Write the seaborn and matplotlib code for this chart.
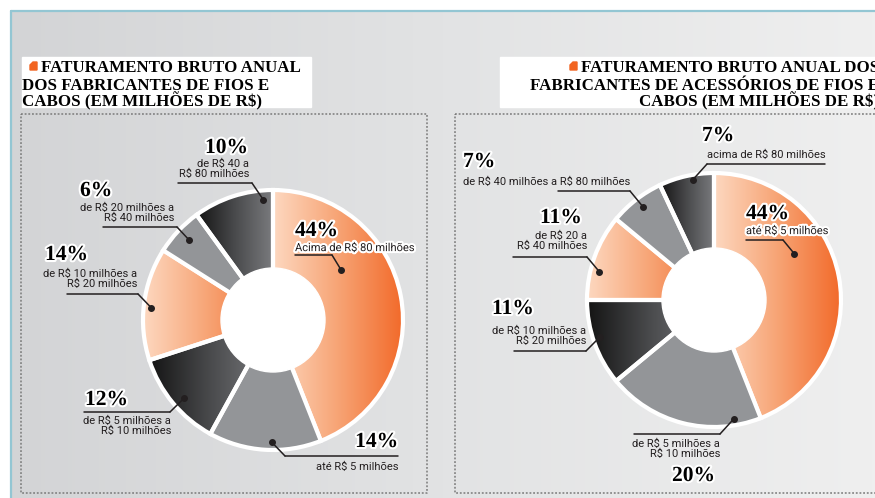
import numpy as np
import matplotlib
matplotlib.use("Agg")
import matplotlib.pyplot as plt
import matplotlib.patches as mpatches
import matplotlib.patheffects as pe
import seaborn as sns

# ─── Data ────────────────────────────────────────────────────────────────────
left_title = ["FATURAMENTO BRUTO ANUAL", "DOS FABRICANTES DE FIOS E",
              "CABOS (EM MILHÕES DE R$)"]
left_values = [44, 14, 12, 14, 6, 10]
left_pcts = ["44%", "14%", "12%", "14%", "6%", "10%"]
left_labels = ["Acima de R$ 80 milhões", "até R$ 5 milhões",
               "de R$ 5 milhões a\nR$ 10 milhões", "de R$ 10 milhões a\nR$ 20 milhões",
               "de R$ 20 milhões a\nR$ 40 milhões", "de R$ 40 a\nR$ 80 milhões"]

right_title = ["FATURAMENTO BRUTO ANUAL DOS", "FABRICANTES DE ACESSÓRIOS DE FIOS E",
               "CABOS (EM MILHÕES DE R$)"]
right_values = [44, 20, 11, 11, 7, 7]
right_pcts = ["44%", "20%", "11%", "11%", "7%", "7%"]
right_labels = ["até R$ 5 milhões", "de R$ 5 milhões a\nR$ 10 milhões",
                "de R$ 10 milhões a\nR$ 20 milhões", "de R$ 20 a\nR$ 40 milhões",
                "de R$ 40 milhões a R$ 80 milhões", "acima de R$ 80 milhões"]

fills = ["orange", "gray", "dark", "orange", "gray", "dark"]

# ─── Style ───────────────────────────────────────────────────────────────────
sns.set_style("white")
plt.rcParams["font.family"] = ["Roboto", "DejaVu Sans"]
plt.rcParams["text.parse_math"] = False
INK = "#231f20"
ORANGE_CMAP = sns.blend_palette(["#fdd8c0", "#f7a475", "#f26a2a"], as_cmap=True)
DARK_CMAP = sns.blend_palette(["#141414", "#4a4b4d", "#7b7c7f"], as_cmap=True)
BG_CMAP = sns.blend_palette(["#d3d4d6", "#e2e3e4", "#efefef"], as_cmap=True)
GRAY = "#939598"
SERIF = ["Liberation Serif", "DejaVu Serif"]
halo = [pe.withStroke(linewidth=3, foreground="white")]
GRAD = np.linspace(0, 1, 256).reshape(1, -1)

fig = plt.figure(figsize=(8.75, 4.98), dpi=100)
ax = fig.add_axes([0, 0, 1, 1])

# background + frame
ax.imshow(GRAD, cmap=BG_CMAP, extent=(11, 875, 498, 11), aspect="auto", zorder=0)
ax.plot([10.5, 875], [10.5, 10.5], color="#93c6d3", lw=1.6, zorder=1)
ax.plot([10.5, 10.5], [10.5, 498], color="#93c6d3", lw=1.6, zorder=1)
for x0, x1 in [(21, 427), (455, 885)]:
    ax.plot([x0, x1, x1, x0, x0], [114, 114, 493, 493, 114], color="#7a7a7a",
            lw=1.1, ls=(0, (1.2, 1.2)), zorder=1)


def title_box(x0, x1, lines, ha, xs, icon_x):
    ax.add_patch(mpatches.Rectangle((x0, 57), x1 - x0, 50, color="white", zorder=2))
    for line, x, yb in zip(lines, xs, [71.5, 89.5, 106.5]):
        ax.text(x, yb, line, ha=ha, va="baseline", fontsize=12.2, fontweight="bold",
                family=SERIF, color="black", zorder=3)
    ax.add_patch(mpatches.Polygon([(icon_x, 70), (icon_x, 65), (icon_x + 3, 62),
                                   (icon_x + 7, 62), (icon_x + 7, 70)],
                                  color="#f26522", zorder=3))


title_box(22, 311, left_title, "left", [41, 22, 22], 30)
title_box(500, 880, right_title, "right", [879, 879, 879], 570)


def donut(cx, cy, R, r_in, values, pcts, labels, layout):
    wedges, _ = ax.pie(values, center=(cx, cy), radius=R, startangle=-90,
                       counterclock=True, frame=True,
                       wedgeprops=dict(edgecolor="white", linewidth=3, zorder=4))
    for w, kind in zip(wedges, fills):
        if kind == "gray":
            w.set_facecolor(GRAY)
            continue
        w.set_facecolor("none")
        ext = w.get_path().get_extents()
        im = ax.imshow(GRAD, cmap=ORANGE_CMAP if kind == "orange" else DARK_CMAP,
                       extent=(ext.x0, ext.x1, ext.y1, ext.y0), aspect="auto",
                       interpolation="bilinear", zorder=3)
        im.set_clip_path(w)
    ax.add_patch(mpatches.Circle((cx, cy), r_in, color="white", zorder=5))

    for w, pct, lab, lay in zip(wedges, pcts, labels, layout):
        frac, rf, (ux0, ux1, uy), elbow, (px, py, pha), (sx, sy, sha), on_slice = lay
        phi = np.deg2rad(w.theta1 + 90 + frac * (w.theta2 - w.theta1))
        dx, dy = cx + rf * R * np.sin(phi), cy - rf * R * np.cos(phi)
        ex = ux1 if elbow == "r" else ux0
        ax.plot([ux0, ux1], [uy, uy], color=INK, lw=1.1, zorder=6)
        ax.plot([ex, dx], [uy, dy], color=INK, lw=1.1, zorder=6)
        ax.plot(dx, dy, "o", color=INK, ms=4, zorder=7)
        ax.text(px, py, pct, ha=pha, va="center", fontsize=15.5, fontweight="bold",
                family=SERIF, color="black", path_effects=halo, zorder=8)
        ax.text(sx, sy, lab, ha=sha, va="center", fontsize=8, color=INK,
                linespacing=0.95, multialignment=sha,
                path_effects=halo if on_slice else None, zorder=8)


# layout: (angle frac, radius frac, underline, elbow side, pct pos, label pos, halo)
left_layout = [
    (0.34, 0.65, (295, 332, 255), "r", (295, 231, "left"), (295, 248, "left"), True),
    (0.44, 0.94, (285, 398, 456), "l", (398, 442, "right"), (398, 467, "right"), False),
    (0.46, 0.91, (84, 170, 412), "r", (85, 400, "left"), (171, 426, "right"), False),
    (0.47, 0.94, (67, 138, 294), "r", (45, 255, "left"), (137, 279, "right"), False),
    (0.52, 0.89, (103, 177, 227), "r", (80, 191, "left"), (174, 213, "right"), False),
    (0.87, 0.93, (178, 252, 183), "r", (205, 148, "left"), (249, 169, "right"), False),
]
right_layout = [
    (0.38, 0.73, (746, 783, 240), "r", (746, 214, "left"), (746, 231, "left"), True),
    (0.17, 0.95, (634, 720, 434), "r", (672, 476, "left"), (720, 449, "right"), False),
    (0.55, 0.94, (514, 586, 351), "r", (492, 309, "left"), (586, 336, "right"), False),
    (0.35, 0.93, (513, 587, 257), "r", (540, 218, "left"), (587, 241, "right"), False),
    (0.52, 0.92, (558, 630, 191), "r", (463, 162, "left"), (463, 182, "left"), False),
    (0.60, 0.96, (707, 825, 164), "l", (702, 136, "left"), (707, 155, "left"), False),
]

donut(273, 320, 130, 52, left_values, left_pcts, left_labels, left_layout)
donut(714, 300, 127, 52, right_values, right_pcts, right_labels, right_layout)

ax.set_xlim(0, 875)
ax.set_ylim(498, 0)
ax.set_aspect("auto")
ax.axis("off")
fig.savefig("out.png", dpi=100, facecolor="white")
